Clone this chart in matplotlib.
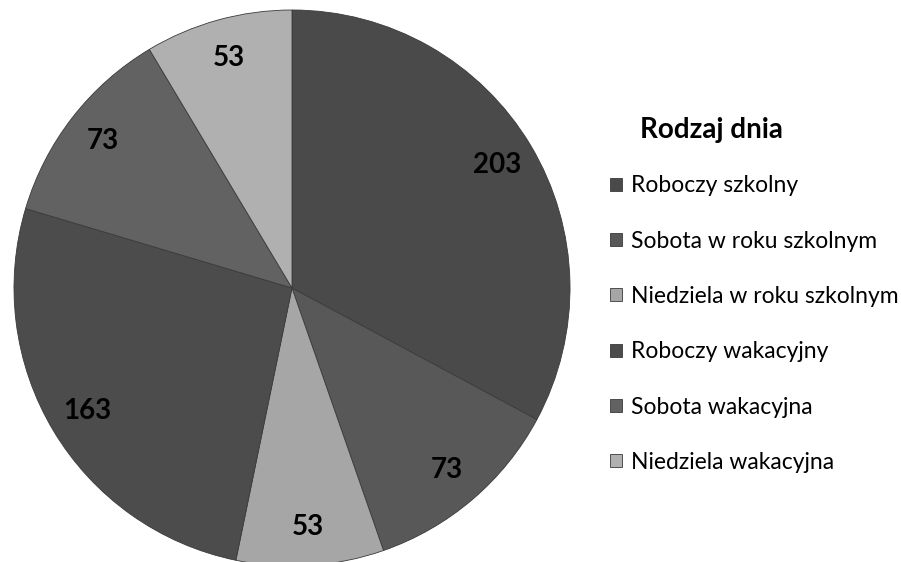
import matplotlib
matplotlib.use("Agg")
import matplotlib.pyplot as plt

plt.rcParams["font.family"] = ["Lato", "DejaVu Sans"]

# dane z wykresu
categories = ["Roboczy szkolny", "Sobota w roku szkolnym", "Niedziela w roku szkolnym",
              "Roboczy wakacyjny", "Sobota wakacyjna", "Niedziela wakacyjna"]
days = [203, 73, 53, 163, 73, 53]
colors = ["#4a4a4a", "#585858", "#a6a6a6", "#4c4c4c", "#626262", "#b0b0b0"]

total = sum(days)

fig = plt.figure(figsize=(9.01, 5.62), dpi=100)
# pie centre ~ (292, 288) px, radius ~ 278 px
ax = fig.add_axes([(292 - 278) / 901, (562 - 288 - 278) / 562, 556 / 901, 556 / 562])
wedges, _, autotexts = ax.pie(
    days, colors=colors, startangle=90, counterclock=False,
    autopct=lambda p: f"{round(p * total / 100)}", pctdistance=0.86,
    wedgeprops=dict(linewidth=0.6, edgecolor="#3a3a3a"),
    textprops=dict(fontsize=20, fontweight="bold", color="black"),
)
ax.set_xlim(-1, 1)
ax.set_ylim(-1, 1)
ax.set_aspect("equal")

fig.text(640 / 901, 1 - 130 / 562, "Rodzaj dnia", fontsize=20, fontweight="bold",
         va="center", ha="left")
fig.legend(wedges, categories, loc="upper left", bbox_to_anchor=(601 / 901, 1 - 166 / 562),
           frameon=False, fontsize=16.5, handlelength=0.5, handleheight=0.5,
           handletextpad=0.4, labelspacing=1.5, borderaxespad=0)

fig.savefig("out.png", dpi=100)
